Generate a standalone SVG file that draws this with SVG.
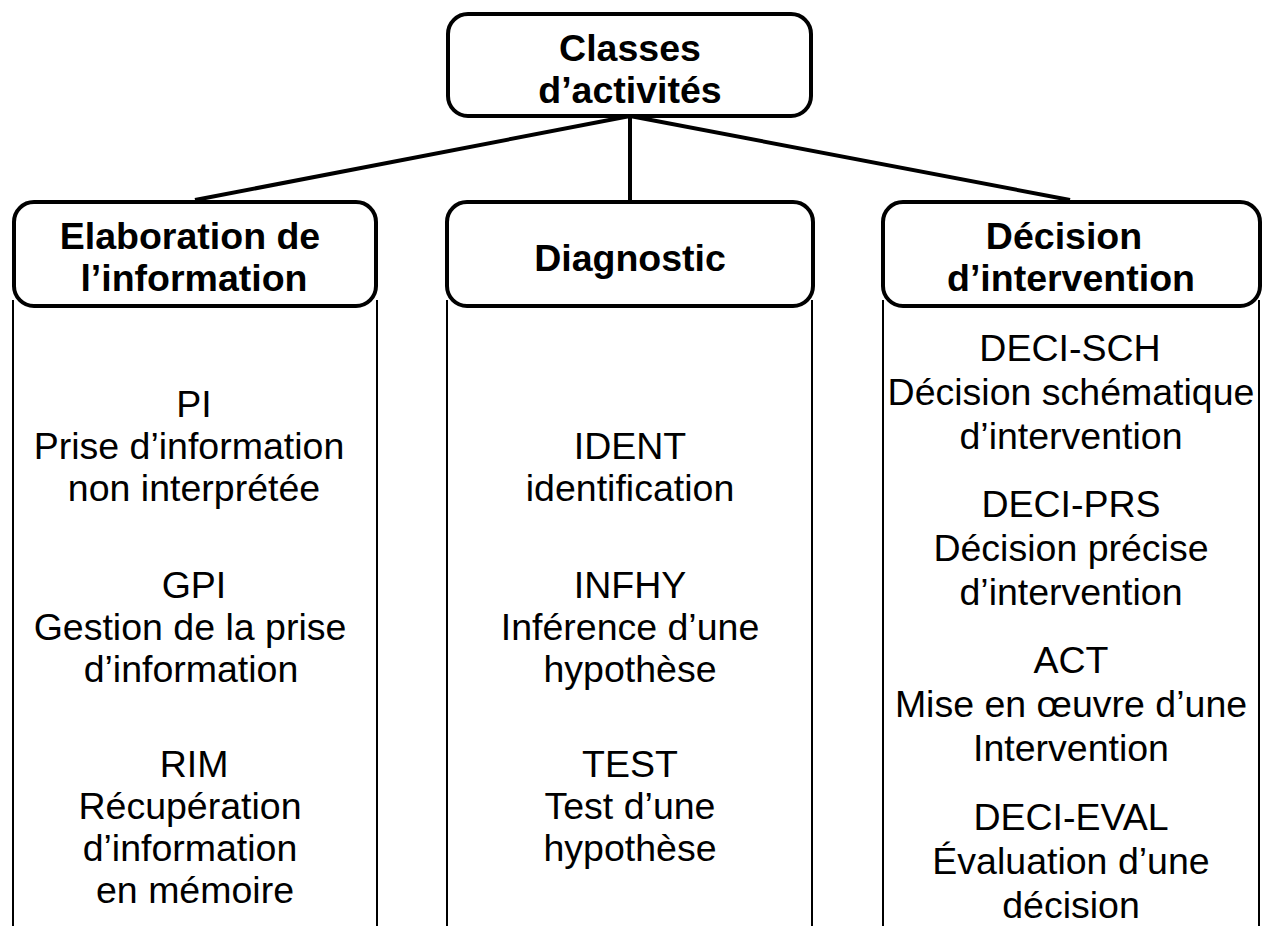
<svg xmlns="http://www.w3.org/2000/svg" width="1265" height="926" viewBox="0 0 1265 926">
<style>
.box{fill:#fff;stroke:#000;stroke-width:4}
.col{stroke:#000;stroke-width:2;fill:none}
.conn{stroke:#000;stroke-width:4;fill:none}
.h{font-family:"Liberation Sans",Arial,sans-serif;font-weight:bold;font-size:37.5px;text-anchor:middle;fill:#000}
.t{font-family:"Liberation Sans",Arial,sans-serif;font-size:37.5px;text-anchor:middle;fill:#000}
</style>
<rect width="1265" height="926" fill="#fff"/>
<g id="connectors">
<line class="conn" x1="630" y1="116" x2="195" y2="200"/>
<line class="conn" x1="630" y1="116" x2="630" y2="202"/>
<line class="conn" x1="630" y1="116" x2="1070" y2="200"/>
</g>
<g id="root">
<rect class="box" x="448" y="14" width="363" height="102" rx="20"/>
<text class="h" x="630" y="61">Classes</text>
<text class="h" x="630" y="103">d’activités</text>
</g>
<g id="elaboration">
<line class="col" x1="13" y1="300" x2="13" y2="926"/>
<line class="col" x1="377" y1="300" x2="377" y2="926"/>
<rect class="box" x="14" y="202" width="362" height="104" rx="20"/>
<text class="h" x="190" y="249">Elaboration de</text>
<text class="h" x="194" y="291">l’information</text>
<text class="t" x="194" y="417">PI</text>
<text class="t" x="189" y="459">Prise d’information</text>
<text class="t" x="194" y="501">non interprétée</text>
<text class="t" x="194" y="598">GPI</text>
<text class="t" x="190" y="640">Gestion de la prise</text>
<text class="t" x="191" y="682">d’information</text>
<text class="t" x="194" y="777">RIM</text>
<text class="t" x="190" y="819">Récupération</text>
<text class="t" x="190" y="861">d’information</text>
<text class="t" x="195" y="903">en mémoire</text>
</g>
<g id="diagnostic">
<line class="col" x1="447" y1="300" x2="447" y2="926"/>
<line class="col" x1="812" y1="300" x2="812" y2="926"/>
<rect class="box" x="447" y="202" width="366" height="104" rx="20"/>
<text class="h" x="630" y="271">Diagnostic</text>
<text class="t" x="630" y="459">IDENT</text>
<text class="t" x="630" y="501">identification</text>
<text class="t" x="630" y="598">INFHY</text>
<text class="t" x="630" y="640">Inférence d’une</text>
<text class="t" x="630" y="682">hypothèse</text>
<text class="t" x="630" y="777">TEST</text>
<text class="t" x="630" y="819">Test d’une</text>
<text class="t" x="630" y="861">hypothèse</text>
</g>
<g id="decision">
<line class="col" x1="883" y1="300" x2="883" y2="926"/>
<line class="col" x1="1259" y1="300" x2="1259" y2="926"/>
<rect class="box" x="883" y="202" width="377" height="104" rx="20"/>
<text class="h" x="1064" y="249">Décision</text>
<text class="h" x="1071" y="291">d’intervention</text>
<text class="t" x="1070" y="361">DECI-SCH</text>
<text class="t" x="1071" y="405">Décision schématique</text>
<text class="t" x="1071" y="449">d’intervention</text>
<text class="t" x="1071" y="517">DECI-PRS</text>
<text class="t" x="1071" y="561">Décision précise</text>
<text class="t" x="1071" y="605">d’intervention</text>
<text class="t" x="1071" y="673">ACT</text>
<text class="t" x="1071" y="717">Mise en œuvre d’une</text>
<text class="t" x="1071" y="761">Intervention</text>
<text class="t" x="1071" y="830">DECI-EVAL</text>
<text class="t" x="1071" y="874">Évaluation d’une</text>
<text class="t" x="1071" y="918">décision</text>
</g>
</svg>
